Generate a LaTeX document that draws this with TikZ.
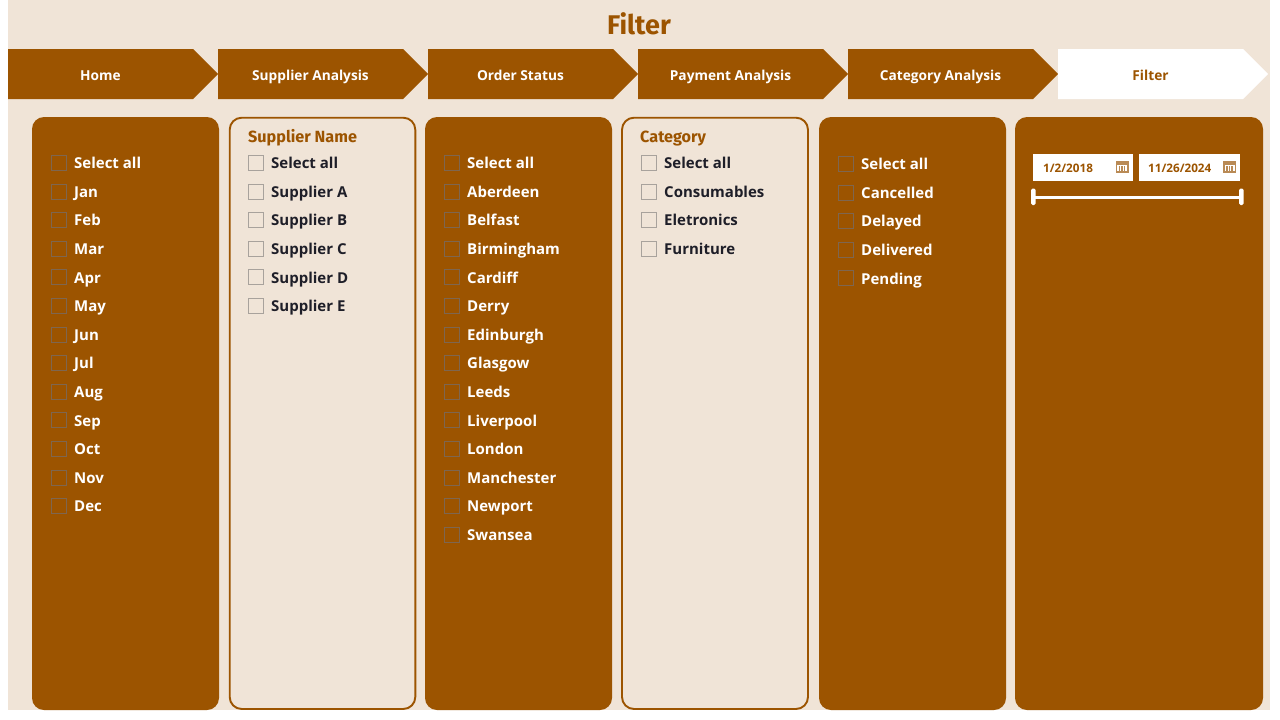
\documentclass[tikz,border=0pt]{standalone}
\usepackage{fontspec}
\setmainfont{Open Sans}
\newfontfamily\din{Fira Sans}
\definecolor{brn}{HTML}{9C5400}
\definecolor{bge}{HTML}{F0E4D7}
\definecolor{ink}{HTML}{1E1E28}
\definecolor{boxd}{HTML}{7E6650}
\definecolor{boxl}{HTML}{A8A29C}
\definecolor{cal}{HTML}{B98A55}
\tikzset{
  x=1pt,y=-1pt,
  panelfill/.style={fill=brn,rounded corners=12pt},
  paneline/.style={fill=bge,draw=brn,line width=1.9pt,rounded corners=12pt},
  chevtext/.style={anchor=base,font=\fontsize{13.7}{16}\selectfont\bfseries,text=white,inner sep=0pt},
  rowtext/.style={anchor=base west,inner sep=0pt,font=\fontsize{15}{18}\selectfont\bfseries},
  headtext/.style={anchor=base west,inner sep=0pt,text=brn,font=\din\fontsize{16.2}{20}\selectfont\bfseries},
  datetext/.style={anchor=base west,inner sep=0pt,text=brn,font=\fontsize{11.7}{13}\selectfont\bfseries},
}
\newcommand{\chev}[3]{% x, fill, name
  \fill[#2] (#1,49) -- ++(185,0) -- ++(25,25) -- ++(-25,25) -- ++(-185,0) -- cycle;}
\newcommand{\calicon}[1]{%
  \fill[cal] (#1-6.5,160.5) rectangle (#1+6.5,172.5);
  \fill[white] (#1-5,165) rectangle (#1+5,171);
  \foreach \k in {-2.5,0,2.5}{\fill[cal] (#1+\k-.6,165.5) rectangle (#1+\k+.6,170.5);}
}
\newcommand{\rows}[6]{% name, box x, first y, box colour, text colour, list
  \foreach \t [count=\i from 0] in {#6}{
    \pgfmathsetmacro{\yy}{#3+28.6*\i}
    \pgfmathsetmacro{\yb}{round(\yy)-0.5}
    \draw[#4,line width=1pt] (#2+0.5,\yb-7) rectangle (#2+15.5,\yb+8);
    \node[rowtext,text=#5] (#1\i) at (#2+23,\yy+5.6) {\t};
  }
}
\begin{document}
\begin{tikzpicture}
\useasboundingbox (0,0) rectangle (1280,720);
\fill[white] (0,0) rectangle (1280,720);
\fill[bge] (8,0) rectangle (1270,710);
\node[inner sep=0pt,text=brn,font=\din\fontsize{27}{30}\selectfont\bfseries] (title) at (639,24) {Filter};
\chev{8}{brn}{}\chev{218}{brn}{}\chev{428}{brn}{}\chev{638}{brn}{}\chev{848}{brn}{}\chev{1058}{white}{}
\node[chevtext] (n1) at (100.5,80) {Home};
\node[chevtext] (n2) at (310.5,80) {Supplier Analysis};
\node[chevtext] (n3) at (520.5,80) {Order Status};
\node[chevtext] (n4) at (730.5,80) {Payment Analysis};
\node[chevtext] (n5) at (940.5,80) {Category Analysis};
\node[chevtext,text=brn] (n6) at (1150.5,80) {Filter};
\fill[panelfill] (32,117) rectangle (219,710);
\draw[paneline] (229.7,117.7) rectangle (415.3,709);
\fill[panelfill] (425,117) rectangle (612,710);
\draw[paneline] (622,117.7) rectangle (808,709);
\fill[panelfill] (819,117) rectangle (1006,710);
\fill[panelfill] (1015,117) rectangle (1263,710);
\node[headtext] (h1) at (248,142.5) {Supplier Name};
\node[headtext] (h2) at (640,142.5) {Category};
\rows{a}{51}{163}{boxd}{white}{Select all,Jan,Feb,Mar,Apr,May,Jun,Jul,Aug,Sep,Oct,Nov,Dec}
\rows{b}{248}{163}{boxl}{ink}{Select all,Supplier A,Supplier B,Supplier C,Supplier D,Supplier E}
\rows{c}{444}{163}{boxd}{white}{Select all,Aberdeen,Belfast,Birmingham,Cardiff,Derry,Edinburgh,Glasgow,Leeds,Liverpool,London,Manchester,Newport,Swansea}
\rows{d}{641}{163}{boxl}{ink}{Select all,Consumables,Eletronics,Furniture}
\rows{e}{838}{164}{boxd}{white}{Select all,Cancelled,Delayed,Delivered,Pending}
\fill[white] (1033,154) rectangle (1133,181);
\fill[white] (1139,154) rectangle (1240,181);
\node[datetext] (d1) at (1043,172.5) {1/2/2018};
\node[datetext] (d2) at (1148,172.5) {11/26/2024};
\calicon{1122}\calicon{1229.5}
\fill[white] (1033,195.5) rectangle (1241,198.5);
\fill[white,rounded corners=1.5pt] (1031,188.5) rectangle (1035.5,205);
\fill[white,rounded corners=1.5pt] (1239,188.5) rectangle (1243.5,205);
\end{tikzpicture}
\end{document}
